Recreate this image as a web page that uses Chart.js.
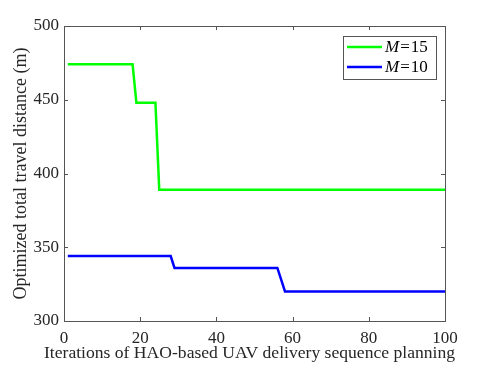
<!DOCTYPE html>
<html>
<head>
<meta charset="utf-8">
<script src="https://cdn.jsdelivr.net/npm/chart.js@4/dist/chart.umd.min.js"></script>
<style>
  html, body { margin: 0; padding: 0; background: #fff; }
  #wrap { width: 491px; height: 368px; }
</style>
</head>
<body>
<div id="wrap"><canvas id="conv"></canvas></div>
<script>
// Convergence of the travel distance (breakpoints of the step curves)
const iterM15 = [1, 18, 19, 24, 25, 100];
const distM15 = [474, 474, 448, 448, 389, 389];
const iterM10 = [1, 28, 29, 56, 57, 58, 100];
const distM10 = [344, 344, 336, 336, 328, 320, 320];
const xTicks = [0, 20, 40, 60, 80, 100];
const yTicks = [300, 350, 400, 450, 500];
const seriesNames = ['15', '10'];
const seriesColors = ['#00ff00', '#0000ff'];
const xTitle = 'Iterations of HAO-based UAV delivery sequence planning';
const yTitle = 'Optimized total travel distance (m)';

const axisColor = '#262626';
const serif = '"Liberation Serif", "DejaVu Serif", serif';

const toPoints = (xs, ys) => xs.map((x, i) => ({ x: x, y: ys[i] }));

// box, inward ticks on all four sides, axis titles and the legend
const matlabFrame = {
    id: 'matlabFrame',
    afterDraw(chart) {
        const ctx = chart.ctx;
        const a = chart.chartArea;
        const xs = chart.scales.x, ys = chart.scales.y;
        ctx.save();
        ctx.strokeStyle = '#555';
        ctx.lineWidth = 1;
        ctx.strokeRect(a.left + 0.5, a.top + 0.5, a.right - a.left, a.bottom - a.top);
        ctx.beginPath();
        xTicks.forEach(v => {
            const px = Math.round(xs.getPixelForValue(v)) + 0.5;
            ctx.moveTo(px, a.bottom); ctx.lineTo(px, a.bottom - 4);
            ctx.moveTo(px, a.top); ctx.lineTo(px, a.top + 4);
        });
        yTicks.forEach(v => {
            const py = Math.round(ys.getPixelForValue(v)) + 0.5;
            ctx.moveTo(a.left, py); ctx.lineTo(a.left + 4, py);
            ctx.moveTo(a.right, py); ctx.lineTo(a.right - 4, py);
        });
        ctx.stroke();

        // axis titles
        ctx.fillStyle = axisColor;
        ctx.font = '17.6px ' + serif;
        ctx.textAlign = 'center';
        ctx.textBaseline = 'middle';
        ctx.fillText(xTitle, (a.left + a.right) / 2 - 5, 353);
        ctx.font = '18px ' + serif;
        ctx.save();
        ctx.translate(21, (a.top + a.bottom) / 2);
        ctx.rotate(-Math.PI / 2);
        ctx.fillText(yTitle, 0, 0);
        ctx.restore();

        // legend box
        const lx = 343, ly = 36, lw = 93, lh = 43;
        ctx.fillStyle = '#fff';
        ctx.fillRect(lx, ly, lw, lh);
        ctx.strokeStyle = '#555';
        ctx.strokeRect(lx + 0.5, ly + 0.5, lw, lh);
        seriesNames.forEach((name, i) => {
            const cy = ly + 11 + i * 20;
            ctx.strokeStyle = seriesColors[i];
            ctx.lineWidth = 2.5;
            ctx.beginPath();
            ctx.moveTo(lx + 4, cy); ctx.lineTo(lx + 39, cy);
            ctx.stroke();
            ctx.fillStyle = '#000';
            ctx.textBaseline = 'middle';
            ctx.textAlign = 'left';
            let tx = lx + 42;
            ctx.font = 'italic 17px ' + serif;
            ctx.fillText('M', tx, cy + 1);
            tx += ctx.measureText('M').width + 1;
            ctx.font = '17px ' + serif;
            ctx.fillText('=', tx, cy + 1);
            tx += ctx.measureText('=').width + 1;
            ctx.fillText(name, tx, cy + 1);
        });
        ctx.restore();
    }
};

new Chart(document.getElementById('conv'), {
    type: 'line',
    data: {
        datasets: [
            {
                label: 'M=15',
                data: toPoints(iterM15, distM15),
                borderColor: seriesColors[0],
                borderWidth: 2.5,
                pointRadius: 0,
                fill: false,
                tension: 0
            },
            {
                label: 'M=10',
                data: toPoints(iterM10, distM10),
                borderColor: seriesColors[1],
                borderWidth: 2.5,
                pointRadius: 0,
                fill: false,
                tension: 0
            }
        ]
    },
    options: {
        responsive: true,
        maintainAspectRatio: false,
        animation: false,
        layout: {
            padding: { top: 26, right: 46, left: 0, bottom: 0 }
        },
        plugins: {
            legend: { display: false },
            tooltip: { enabled: false }
        },
        scales: {
            x: {
                type: 'linear',
                min: 0,
                max: 100,
                afterBuildTicks: s => { s.ticks = xTicks.map(v => ({ value: v })); },
                afterFit: s => { s.height = 47; },
                grid: { display: false, drawTicks: false },
                border: { display: false },
                ticks: { color: axisColor, font: { family: serif, size: 17 }, padding: 7, maxRotation: 0 }
            },
            y: {
                min: 300,
                max: 500,
                afterBuildTicks: s => { s.ticks = yTicks.map(v => ({ value: v })); },
                afterFit: s => { s.width = 64; },
                grid: { display: false, drawTicks: false },
                border: { display: false },
                ticks: { color: axisColor, font: { family: serif, size: 17 }, padding: 5 }
            }
        }
    },
    plugins: [matlabFrame]
});
</script>
</body>
</html>
